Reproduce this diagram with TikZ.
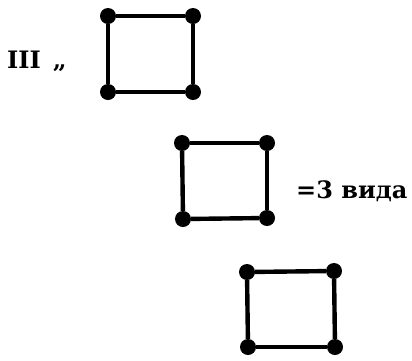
\documentclass[tikz,border=0pt]{standalone}
\usepackage{fontspec}
\setmainfont{DejaVu Serif}
\usepackage{tikz}
\usetikzlibrary{positioning}

\begin{document}
\begin{tikzpicture}[
  x=1pt, y=-1pt,
  dot/.style={circle, fill=black, draw=none, inner sep=0pt, minimum size=16pt},
  edg/.style={line width=4.4pt, black},
  lbl/.style={anchor=base west, inner sep=0pt, font=\fontsize{24}{28}\selectfont\bfseries}
]
\useasboundingbox (0,0) rectangle (412,360);

% labels
\node[lbl] (L1) at (7,68) {III\hspace{12pt}„};
\node[lbl] (L2) at (296,198) {=3 вида};

% first square
\node[dot] (A1) at (108,16) {};
\node[dot] (A2) at (193,16) {};
\node[dot] (A3) at (108,92) {};
\node[dot] (A4) at (193,92) {};

% second square
\node[dot] (B1) at (182,143) {};
\node[dot] (B2) at (267,143) {};
\node[dot] (B3) at (183,219) {};
\node[dot] (B4) at (267,218) {};

% third square
\node[dot] (C1) at (247,272) {};
\node[dot] (C2) at (334,271) {};
\node[dot] (C3) at (248,347) {};
\node[dot] (C4) at (335,347) {};

\draw[edg] (A1) -- (A2);
\draw[edg] (A2) -- (A4);
\draw[edg] (A4) -- (A3);
\draw[edg] (A3) -- (A1);

\draw[edg] (B1) -- (B2);
\draw[edg] (B2) -- (B4);
\draw[edg] (B4) -- (B3);
\draw[edg] (B3) -- (B1);

\draw[edg] (C1) -- (C2);
\draw[edg] (C2) -- (C4);
\draw[edg] (C4) -- (C3);
\draw[edg] (C3) -- (C1);

\end{tikzpicture}
\end{document}
